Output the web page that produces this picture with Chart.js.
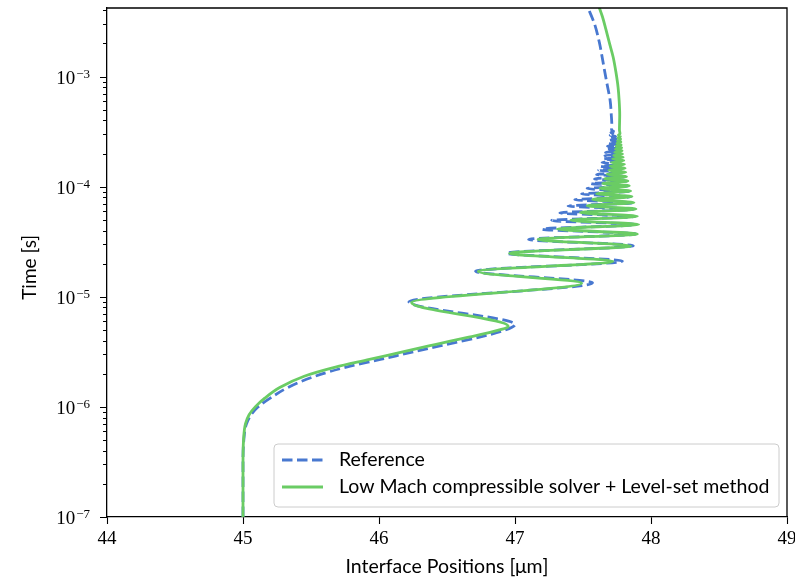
<!DOCTYPE html>
<html>
<head>
<meta charset="utf-8">
<title>Interface positions</title>
<script src="https://cdn.jsdelivr.net/npm/chart.js@4.4.1/dist/chart.umd.min.js"></script>
<style>
  html, body { margin: 0; padding: 0; background: #fff; }
  #wrap { width: 795px; height: 580px; }
</style>
</head>
<body>
<div id="wrap"><canvas id="chart" width="795" height="580"></canvas></div>
<script>
// Interface position vs. time
var refLabel = 'Reference';
var lmLabel = 'Low Mach compressible solver + Level-set method';

// reference solution: time [s] and interface position [um]
var refTime = [
    1e-7, 3e-7, 5e-7, 7e-7, 8.5e-7, 1.0e-6, 1.2e-6, 1.5e-6, 1.9e-6, 2.3e-6, 2.7e-6, 3.2e-6, 3.7e-6, 4.3e-6, 4.9e-6,
    5.6e-6, 9.0e-6, 13.4e-6, 17.1e-6, 21.1e-6, 24.9e-6, 29.1e-6, 33.2e-6, 37.2e-6, 41.2e-6,
    45.3e-6, 49.4e-6, 53.6e-6, 57.9e-6, 62.3e-6, 66.8e-6, 71.4e-6, 76.2e-6, 81.0e-6, 86.0e-6,
    91.0e-6, 96.2e-6, 101.4e-6, 106.8e-6, 112.2e-6, 117.8e-6, 123.4e-6, 129.2e-6, 135.0e-6, 141.0e-6,
    147.0e-6, 153.2e-6, 159.4e-6, 165.8e-6, 172.2e-6, 178.6e-6, 185.0e-6, 191.6e-6, 198.2e-6, 205.0e-6,
    211.8e-6, 218.8e-6, 225.8e-6, 233.0e-6, 240.2e-6, 247.6e-6, 255.0e-6, 262.6e-6, 270.2e-6, 278.0e-6,
    285.8e-6, 293.8e-6, 301.8e-6, 310.0e-6, 318.2e-6, 326.6e-6,
    3.6e-4, 4.5e-4, 6e-4, 8.8e-4, 1.2e-3, 1.6e-3, 2.0e-3, 3.0e-3, 4.4e-3
];
var refPos = [
    45.0, 45.0, 45.006, 45.025, 45.06, 45.11, 45.2, 45.33, 45.53, 45.76, 46.01, 46.27, 46.5, 46.74, 46.91,
    47.0, 46.22, 47.57, 46.71, 47.79, 46.94, 47.87, 47.10, 47.89, 47.20,
    47.89, 47.27, 47.88, 47.33, 47.87, 47.39, 47.86, 47.44, 47.85, 47.49,
    47.84, 47.53, 47.83, 47.56, 47.82, 47.585, 47.81, 47.60, 47.80, 47.615,
    47.79, 47.63, 47.785, 47.64, 47.78, 47.65, 47.775, 47.66, 47.77, 47.665,
    47.765, 47.67, 47.76, 47.68, 47.755, 47.685, 47.75, 47.69, 47.745, 47.695,
    47.74, 47.70, 47.73, 47.705, 47.725, 47.71,
    47.712, 47.708, 47.70, 47.675, 47.655, 47.637, 47.622, 47.585, 47.53
];

// low Mach solver + level set
var lmTime = [
    1e-7, 3e-7, 5e-7, 7e-7, 8.5e-7, 1.0e-6, 1.2e-6, 1.5e-6, 1.9e-6, 2.3e-6, 2.7e-6, 3.2e-6, 3.7e-6, 4.3e-6, 4.8e-6,
    5.4e-6, 8.9e-6, 13.3e-6, 17.0e-6, 21.0e-6, 24.8e-6, 29.0e-6, 33.2e-6, 37.2e-6, 41.3e-6,
    45.4e-6, 49.6e-6, 53.8e-6, 58.2e-6, 62.6e-6, 67.2e-6, 71.8e-6, 76.6e-6, 81.4e-6, 86.4e-6,
    91.4e-6, 96.6e-6, 101.8e-6, 107.2e-6, 112.6e-6, 118.2e-6, 123.8e-6, 129.6e-6, 135.4e-6, 141.4e-6,
    147.4e-6, 153.6e-6, 159.8e-6, 166.2e-6, 172.6e-6, 179.0e-6, 185.4e-6, 192.0e-6, 198.6e-6, 205.4e-6,
    212.2e-6, 219.2e-6, 226.2e-6, 233.4e-6, 240.6e-6, 248.0e-6, 255.4e-6, 263.0e-6, 270.6e-6, 278.4e-6,
    286.2e-6, 294.2e-6, 302.2e-6,
    3.3e-4, 4.5e-4, 6e-4, 8e-4, 1.1e-3, 1.5e-3, 2.0e-3, 2.7e-3, 3.5e-3, 4.4e-3
];
var lmPos = [
    45.0, 45.0, 45.004, 45.018, 45.045, 45.09, 45.16, 45.27, 45.45, 45.68, 45.93, 46.19, 46.42, 46.66, 46.83,
    46.95, 46.24, 47.49, 46.73, 47.72, 46.96, 47.85, 47.17, 47.90, 47.31,
    47.91, 47.41, 47.90, 47.48, 47.89, 47.53, 47.875, 47.57, 47.86, 47.60,
    47.85, 47.625, 47.84, 47.645, 47.83, 47.66, 47.82, 47.675, 47.815, 47.69,
    47.81, 47.70, 47.805, 47.71, 47.80, 47.718, 47.795, 47.726, 47.79, 47.733,
    47.787, 47.739, 47.784, 47.744, 47.781, 47.749, 47.779, 47.753, 47.777, 47.757,
    47.775, 47.76, 47.772,
    47.768, 47.77, 47.766, 47.758, 47.742, 47.722, 47.695, 47.668, 47.643, 47.615
];

var xMin = 44, xMax = 49;
var yMin = 1e-7, yMax = 4.2e-3;
var yMajorTicks = [1e-7, 1e-6, 1e-5, 1e-4, 1e-3];

var blue = '#4878d0';
var green = '#6acc64';
var serif = '"Liberation Serif", "DejaVu Serif", serif';
var sans = 'Lato, "Open Sans", sans-serif';

function toPoints(times, pos) {
    return times.map(function(t, i) { return { x: pos[i], y: t }; });
}

// frame, log ticks with 10^k labels and the legend box
var decorPlugin = {
    id: 'decor',
    afterDraw: function(chart) {
        var ctx = chart.ctx;
        var area = chart.chartArea;
        var ys = chart.scales.y;

        ctx.save();
        ctx.strokeStyle = '#000';
        ctx.lineWidth = 1.3;
        ctx.beginPath();
        ctx.moveTo(area.left, area.top);
        ctx.lineTo(area.right, area.top);
        ctx.lineTo(area.right, area.bottom);
        ctx.stroke();

        // y ticks (major + minor)
        ctx.lineWidth = 1.1;
        ctx.beginPath();
        ys.ticks.forEach(function(t) {
            var v = t.value;
            if (v < yMin * 0.999 || v > yMax) return;
            var lg = Math.log10(v);
            var sig = v / Math.pow(10, Math.floor(lg + 1e-9));
            if (Math.abs(sig - Math.round(sig)) > 1e-6) return;
            var major = Math.abs(lg - Math.round(lg)) < 1e-6;
            var py = Math.round(ys.getPixelForValue(v)) + 0.5;
            ctx.moveTo(area.left, py);
            ctx.lineTo(area.left - (major ? 7 : 4), py);
        });
        ctx.stroke();

        // y tick labels 10^k
        ctx.fillStyle = '#000';
        ctx.textBaseline = 'alphabetic';
        yMajorTicks.forEach(function(v) {
            var py = ys.getPixelForValue(v);
            var exp = '\u2212' + Math.abs(Math.round(Math.log10(v)));
            var xr = area.left - 17;
            ctx.font = '13px ' + serif;
            var ew = ctx.measureText(exp).width;
            ctx.textAlign = 'left';
            ctx.fillText(exp, xr - ew, py + 1);
            ctx.font = '19px ' + serif;
            ctx.textAlign = 'right';
            ctx.fillText('10', xr - ew - 1, py + 7);
        });

        // legend
        var lx = 274, ly = 444, lw = 505, lh = 63, r = 4;
        ctx.beginPath();
        ctx.moveTo(lx + r, ly);
        ctx.arcTo(lx + lw, ly, lx + lw, ly + lh, r);
        ctx.arcTo(lx + lw, ly + lh, lx, ly + lh, r);
        ctx.arcTo(lx, ly + lh, lx, ly, r);
        ctx.arcTo(lx, ly, lx + lw, ly, r);
        ctx.closePath();
        ctx.fillStyle = 'rgba(255,255,255,0.8)';
        ctx.fill();
        ctx.strokeStyle = '#cccccc';
        ctx.lineWidth = 1;
        ctx.stroke();

        var rows = [
            { label: refLabel, color: blue, dash: [10.5, 4.5], y: ly + 16 },
            { label: lmLabel, color: green, dash: [], y: ly + 43 }
        ];
        rows.forEach(function(row) {
            ctx.beginPath();
            ctx.setLineDash(row.dash);
            ctx.strokeStyle = row.color;
            ctx.lineWidth = 2.8;
            ctx.moveTo(lx + 8, row.y);
            ctx.lineTo(lx + 49, row.y);
            ctx.stroke();
            ctx.setLineDash([]);
            ctx.fillStyle = '#000';
            ctx.font = '19.5px ' + sans;
            ctx.textAlign = 'left';
            ctx.textBaseline = 'middle';
            ctx.fillText(row.label, lx + 65, row.y);
        });
        ctx.restore();
    }
};

new Chart(document.getElementById('chart'), {
    type: 'line',
    data: {
        datasets: [
            {
                label: refLabel,
                data: toPoints(refTime, refPos),
                borderColor: blue,
                borderWidth: 2.8,
                borderDash: [10.5, 4.5],
                pointRadius: 0,
                fill: false,
                cubicInterpolationMode: 'monotone',
                clip: 0,
                order: 1
            },
            {
                label: lmLabel,
                data: toPoints(lmTime, lmPos),
                borderColor: green,
                borderWidth: 2.8,
                pointRadius: 0,
                fill: false,
                cubicInterpolationMode: 'monotone',
                clip: 0,
                order: 0
            }
        ]
    },
    options: {
        indexAxis: 'y',
        responsive: false,
        animation: false,
        events: [],
        layout: { padding: { top: 8, right: 8, bottom: 0, left: 0 } },
        plugins: {
            legend: { display: false },
            tooltip: { enabled: false }
        },
        scales: {
            x: {
                type: 'linear',
                min: xMin,
                max: xMax,
                grid: {
                    drawOnChartArea: false,
                    drawTicks: true,
                    tickLength: 7,
                    tickColor: '#000',
                    tickWidth: 1.1
                },
                border: { display: true, color: '#000', width: 1.3 },
                ticks: {
                    stepSize: 1,
                    color: '#000',
                    padding: 4,
                    maxRotation: 0,
                    font: { family: serif, size: 19 }
                },
                title: {
                    display: true,
                    text: 'Interface Positions [\u03bcm]',
                    color: '#000',
                    font: { family: sans, size: 19.5 },
                    padding: { top: 0, bottom: 2 }
                },
                afterFit: function(scale) {
                    scale.height = 63;
                    scale.paddingLeft = 0;
                    scale.paddingRight = 0;
                }
            },
            y: {
                type: 'logarithmic',
                min: yMin,
                max: yMax,
                grid: { display: false },
                border: { display: true, color: '#000', width: 1.3 },
                ticks: { display: false, autoSkip: false },
                title: {
                    display: true,
                    text: 'Time [s]  ',
                    color: '#000',
                    font: { family: sans, size: 19 },
                    padding: { top: 18, bottom: 0 }
                },
                afterFit: function(scale) {
                    scale.width = 107;
                    scale.paddingTop = 0;
                    scale.paddingBottom = 0;
                }
            }
        }
    },
    plugins: [decorPlugin]
});
</script>
</body>
</html>
